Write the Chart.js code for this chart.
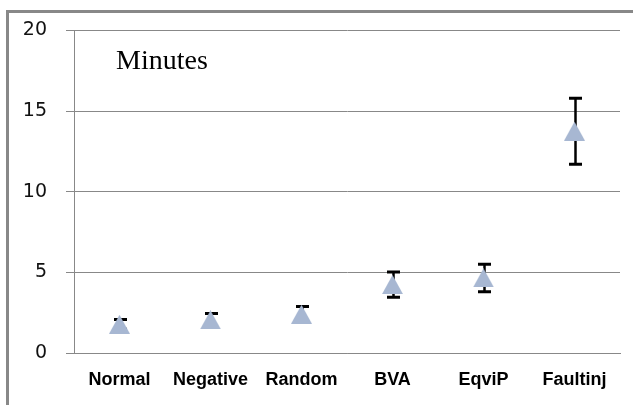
<!DOCTYPE html>
<html>
<head>
<meta charset="utf-8">
<script src="https://cdn.jsdelivr.net/npm/chart.js@4/dist/chart.umd.min.js"></script>
<style>
  html, body { margin: 0; padding: 0; background: #fff; }
  #wrap { position: relative; width: 633px; height: 405px; }
</style>
</head>
<body>
<div id="wrap"><canvas id="c" width="633" height="405"></canvas></div>
<script>
// Test techniques and their mean run time (minutes) with error half-widths
const categories = ['Normal', 'Negative', 'Random', 'BVA', 'EqviP', 'Faultinj'];
const meanMinutes = [1.78, 2.05, 2.4, 4.24, 4.65, 13.75];
const errMinutes = [0.3, 0.4, 0.48, 0.78, 0.85, 2.05];
const yTicks = [0, 5, 10, 15, 20];
const chartNote = 'Minutes';

// Triangle marker, centred on its bounding box
function makeTriangle(w, h, color) {
  const cv = document.createElement('canvas');
  cv.width = w; cv.height = h;
  const g = cv.getContext('2d');
  g.fillStyle = color;
  g.beginPath();
  g.moveTo(w / 2, 0);
  g.lineTo(w, h);
  g.lineTo(0, h);
  g.closePath();
  g.fill();
  return cv;
}
const marker = makeTriangle(21, 19, '#A7B7D2');

// Vertical error bars with caps, drawn under the markers
const errorBars = {
  id: 'errorBars',
  beforeDatasetsDraw(chart) {
    const ctx = chart.ctx;
    const xs = chart.scales.x, ys = chart.scales.y;
    ctx.save();
    ctx.strokeStyle = '#000';
    meanMinutes.forEach((m, i) => {
      const x = Math.round(xs.getPixelForValue(i)) + 0.5;
      const yTop = ys.getPixelForValue(m + errMinutes[i]);
      const yBot = ys.getPixelForValue(m - errMinutes[i]);
      ctx.lineWidth = 2.5;
      ctx.beginPath();
      ctx.moveTo(x, yTop);
      ctx.lineTo(x, yBot);
      ctx.stroke();
      ctx.lineWidth = 3;
      ctx.beginPath();
      ctx.moveTo(x - 6.5, yTop);
      ctx.lineTo(x + 6.5, yTop);
      ctx.moveTo(x - 6.5, yBot);
      ctx.lineTo(x + 6.5, yBot);
      ctx.stroke();
    });
    ctx.restore();
  }
};

// Outer frame (top and left edges) and the in-plot caption
const frameAndNote = {
  id: 'frameAndNote',
  beforeDraw(chart) {
    const ctx = chart.ctx;
    ctx.save();
    ctx.fillStyle = '#888888';
    ctx.fillRect(6, 10, 633 - 6, 3);
    ctx.fillRect(6, 10, 3, 405 - 10);
    ctx.restore();
  },
  afterDraw(chart) {
    const ctx = chart.ctx;
    ctx.save();
    ctx.fillStyle = '#000';
    ctx.font = '28px "Liberation Serif", "Times New Roman", serif';
    ctx.textBaseline = 'alphabetic';
    ctx.textAlign = 'left';
    ctx.fillText(chartNote, 116, 69);
    ctx.restore();
  }
};

new Chart(document.getElementById('c'), {
  type: 'line',
  data: {
    labels: categories,
    datasets: [{
      data: meanMinutes,
      showLine: false,
      pointStyle: marker,
      pointRadius: 10,
      pointHoverRadius: 10
    }]
  },
  options: {
    responsive: false,
    animation: false,
    events: [],
    layout: { padding: { top: 28, right: 13, left: 0, bottom: 0 } },
    plugins: { legend: { display: false }, tooltip: { enabled: false } },
    scales: {
      x: {
        offset: true,
        grid: { display: false, drawTicks: false },
        border: { display: true, color: '#888888', width: 1 },
        ticks: {
          padding: 16,
          color: '#000',
          font: { family: 'Liberation Sans, Arial, sans-serif', size: 18, weight: 'bold' },
          maxRotation: 0, autoSkip: false
        },
        afterFit(scale) { scale.height = 52; }
      },
      y: {
        min: 0, max: 20,
        afterBuildTicks(scale) { scale.ticks = yTicks.map(v => ({ value: v })); },
        grid: { color: '#888888', lineWidth: 1, tickLength: 8, drawTicks: true },
        border: { display: true, color: '#888888', width: 1 },
        ticks: {
          padding: 19,
          color: '#111',
          font: { family: 'DejaVu Sans, sans-serif', size: 19 }
        },
        afterFit(scale) { scale.width = 74; }
      }
    }
  },
  plugins: [errorBars, frameAndNote]
});
</script>
</body>
</html>
